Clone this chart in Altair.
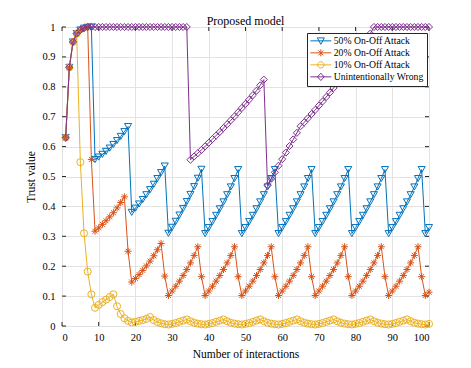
import altair as alt
import pandas as pd

# ---------------- data ----------------
x_values = list(range(1, 101))

series_names = ["50% On-Off Attack", "20% On-Off Attack",
                "10% On-Off Attack", "Unintentionally Wrong"]
colors = ["#0072BD", "#D95319", "#EDB120", "#7E2F8E"]

attack50 = [
    0.630, 0.865, 0.950, 0.978, 0.990, 0.996, 0.999, 1.000,
    0.557, 0.565, 0.574, 0.584, 0.595, 0.607, 0.620, 0.634, 0.650, 0.667,
    0.380, 0.394, 0.408, 0.423, 0.439, 0.456, 0.474, 0.493, 0.513, 0.535,
    0.310, 0.330, 0.350, 0.371, 0.393, 0.416, 0.440, 0.466, 0.494, 0.524,
    0.309, 0.329, 0.349, 0.370, 0.392, 0.415, 0.439, 0.465, 0.493, 0.523,
    0.309, 0.329, 0.349, 0.370, 0.392, 0.415, 0.439, 0.465, 0.493, 0.523,
    0.309, 0.329, 0.349, 0.370, 0.392, 0.415, 0.439, 0.465, 0.493, 0.523,
    0.309, 0.329, 0.349, 0.370, 0.392, 0.415, 0.439, 0.465, 0.493, 0.523,
    0.309, 0.329, 0.349, 0.370, 0.392, 0.415, 0.439, 0.465, 0.493, 0.523,
    0.309, 0.329, 0.349, 0.370, 0.392, 0.415, 0.439, 0.465, 0.493, 0.523,
    0.309, 0.329,
]

attack20 = [
    0.630, 0.865, 0.950, 0.978, 0.990, 0.996, 1.000,
    0.557, 0.317, 0.328, 0.340, 0.352, 0.365, 0.379, 0.395, 0.413, 0.432,
    0.250, 0.147, 0.159, 0.172, 0.186, 0.201, 0.217, 0.235, 0.255, 0.276,
    0.167, 0.102, 0.117, 0.133, 0.150, 0.169, 0.189, 0.211, 0.236, 0.265,
    0.165, 0.102, 0.117, 0.133, 0.150, 0.169, 0.189, 0.211, 0.236, 0.265,
    0.165, 0.102, 0.117, 0.133, 0.150, 0.169, 0.189, 0.211, 0.236, 0.265,
    0.165, 0.102, 0.117, 0.133, 0.150, 0.169, 0.189, 0.211, 0.236, 0.265,
    0.165, 0.102, 0.117, 0.133, 0.150, 0.169, 0.189, 0.211, 0.236, 0.265,
    0.165, 0.102, 0.117, 0.133, 0.150, 0.169, 0.189, 0.211, 0.236, 0.265,
    0.165, 0.102, 0.117, 0.133, 0.150, 0.169, 0.189, 0.211, 0.236, 0.265,
    0.165, 0.102, 0.113,
]

attack10 = [
    0.630, 0.865, 0.950, 0.978,
    0.548, 0.310, 0.182, 0.106, 0.061,
    0.071, 0.080, 0.088, 0.097, 0.106,
    0.066, 0.040, 0.026, 0.017, 0.012,
    0.014, 0.017, 0.020, 0.024, 0.030,
    0.020, 0.013, 0.009, 0.006, 0.005,
    0.007, 0.010, 0.014, 0.018, 0.022,
    0.016, 0.011, 0.008, 0.006, 0.005,
    0.007, 0.010, 0.014, 0.018, 0.022,
    0.016, 0.011, 0.008, 0.006, 0.005,
    0.007, 0.010, 0.014, 0.018, 0.022,
    0.016, 0.011, 0.008, 0.006, 0.005,
    0.007, 0.010, 0.014, 0.018, 0.022,
    0.016, 0.011, 0.008, 0.006, 0.005,
    0.007, 0.010, 0.014, 0.018, 0.022,
    0.016, 0.011, 0.008, 0.006, 0.005,
    0.007, 0.010, 0.014, 0.018, 0.022,
    0.016, 0.011, 0.008, 0.006, 0.005,
    0.007, 0.010, 0.014, 0.018, 0.022,
    0.016, 0.011, 0.008, 0.006, 0.005,
    0.007,
]

wrong = [
    0.630, 0.865, 0.950, 0.978, 0.990, 0.996, 1.000,
    1.000, 1.000, 1.000, 1.000, 1.000, 1.000, 1.000, 1.000, 1.000,
    1.000, 1.000, 1.000, 1.000, 1.000, 1.000, 1.000, 1.000, 1.000,
    1.000, 1.000, 1.000, 1.000, 1.000, 1.000, 1.000, 1.000, 1.000,
    0.556, 0.567, 0.578, 0.589, 0.601, 0.613, 0.625, 0.637, 0.649, 0.662,
    0.675, 0.688, 0.701, 0.715, 0.729, 0.743, 0.757, 0.772, 0.787, 0.805,
    0.824,
    0.470, 0.492, 0.514, 0.536, 0.558, 0.580, 0.602, 0.624, 0.646, 0.668,
    0.681, 0.695, 0.709, 0.723, 0.737, 0.751, 0.766, 0.781, 0.796, 0.811,
    0.827, 0.844, 0.862, 0.880, 0.898, 0.917, 0.937, 0.957, 0.978, 1.000,
    1.000, 1.000, 1.000, 1.000, 1.000, 1.000, 1.000, 1.000, 1.000, 1.000,
    1.000, 1.000, 1.000, 1.000, 1.000,
]

x_ticks = [0, 10, 20, 30, 40, 50, 60, 70, 80, 90, 100]
y_ticks = [0, 0.1, 0.2, 0.3, 0.4, 0.5, 0.6, 0.7, 0.8, 0.9, 1]

# ---------------- tables ----------------
rows = []
for name, vals in zip(series_names, [attack50, attack20, attack10, wrong]):
    for xv, yv in zip(x_values, vals):
        rows.append({"x": xv, "y": yv, "series": name})
df = pd.DataFrame(rows)
xt = pd.DataFrame({"x": x_ticks})
yt = pd.DataFrame({"y": y_ticks})

# ---------------- styling ----------------
FONT = "Liberation Serif, Times New Roman, serif"
W, H = 367, 299
TICK = 4
FRAME = "#262626"

asterisk = "M-1,0L1,0M0,-1L0,1M-0.7,-0.7L0.7,0.7M-0.7,0.7L0.7,-0.7"
marker_shapes = ["triangle-down", asterisk, "circle", "diamond"]
legend_paths = [
    "M-3,0L3,0M-1,-0.85L1,-0.85L0,1Z",
    "M-3,0L3,0M0,-1L0,1M-0.7,-0.7L0.7,0.7M-0.7,0.7L0.7,-0.7",
    "M-3,0L3,0M0.9,0A0.9,0.9,0,1,1,-0.9,0A0.9,0.9,0,1,1,0.9,0",
    "M-3,0L3,0M0,-1.05L0.95,0L0,1.05L-0.95,0Z",
]

xscale = alt.Scale(domain=[0, 100], nice=False, zero=False)
yscale = alt.Scale(domain=[0, 1], nice=False)

x_axis = alt.Axis(values=x_ticks, title="Number of interactions", grid=True,
                  ticks=False, domain=False, format="d",
                  labelFont=FONT, titleFont=FONT,
                  labelPadding=6, titlePadding=6)
y_axis = alt.Axis(values=y_ticks, title="Trust value", grid=True,
                  ticks=False, domain=False, format="~g",
                  labelFont=FONT, titleFont=FONT,
                  labelPadding=7, titlePadding=5)

X = alt.X("x:Q", scale=xscale, axis=x_axis)
Y = alt.Y("y:Q", scale=yscale, axis=y_axis)

layers = []
for name, color, shape in zip(series_names, colors, marker_shapes):
    base = alt.Chart(df).transform_filter(alt.datum.series == name)
    layers.append(base.mark_line(color=color, strokeWidth=1).encode(x=X, y=Y))
    layers.append(base.mark_point(color=color, shape=shape, size=50,
                                  filled=False, strokeWidth=1, opacity=1)
                  .encode(x=X, y=Y))

legend_def = alt.Legend(
    title=None, orient="none", legendX=245, legendY=6,
    symbolSize=49, symbolStrokeWidth=1, symbolOpacity=1, symbolOffset=6,
    labelFont=FONT, labelFontSize=9.7, labelColor="black", labelOffset=8,
    fillColor="white", strokeColor=FRAME, padding=3, rowPadding=0,
    labelLimit=200,
)
legend_layer = (
    alt.Chart(df)
    .transform_filter("datum.x < 0")
    .mark_point(filled=False, strokeWidth=1, opacity=1)
    .encode(
        x=X, y=Y,
        color=alt.Color("series:N", scale=alt.Scale(domain=series_names, range=colors),
                        legend=legend_def),
        shape=alt.Shape("series:N", scale=alt.Scale(domain=series_names, range=legend_paths),
                        legend=legend_def),
    )
)

tick_bottom = alt.Chart(xt).mark_rule(color=FRAME, strokeWidth=1).encode(
    x=X, y=alt.value(H), y2=alt.value(H - TICK))
tick_top = alt.Chart(xt).mark_rule(color=FRAME, strokeWidth=1).encode(
    x=X, y=alt.value(0), y2=alt.value(TICK))
tick_left = alt.Chart(yt).mark_rule(color=FRAME, strokeWidth=1).encode(
    y=Y, x=alt.value(0), x2=alt.value(TICK))
tick_right = alt.Chart(yt).mark_rule(color=FRAME, strokeWidth=1).encode(
    y=Y, x=alt.value(W), x2=alt.value(W - TICK))

chart = (
    alt.layer(tick_bottom, tick_top, tick_left, tick_right, *layers, legend_layer)
    .properties(
        width=W, height=H,
        title=alt.TitleParams("Proposed model", font=FONT, fontSize=12,
                              fontWeight="normal", color="black", offset=-7,
                              anchor="middle", frame="group"),
        padding={"left": 54, "top": 19, "right": 30, "bottom": 40},
        autosize=alt.AutoSizeParams(type="none"),
    )
    .configure(font=FONT)
    .configure_view(stroke=FRAME, strokeWidth=1)
    .configure_axis(labelFont=FONT, titleFont=FONT, labelFontSize=10.5,
                    titleFontSize=11.5, titleFontWeight="normal",
                    labelColor="black", titleColor="black",
                    gridColor="#e3e3e3", gridWidth=1)
)

chart.save("out.html", embed_options={"renderer": "svg", "actions": False})
